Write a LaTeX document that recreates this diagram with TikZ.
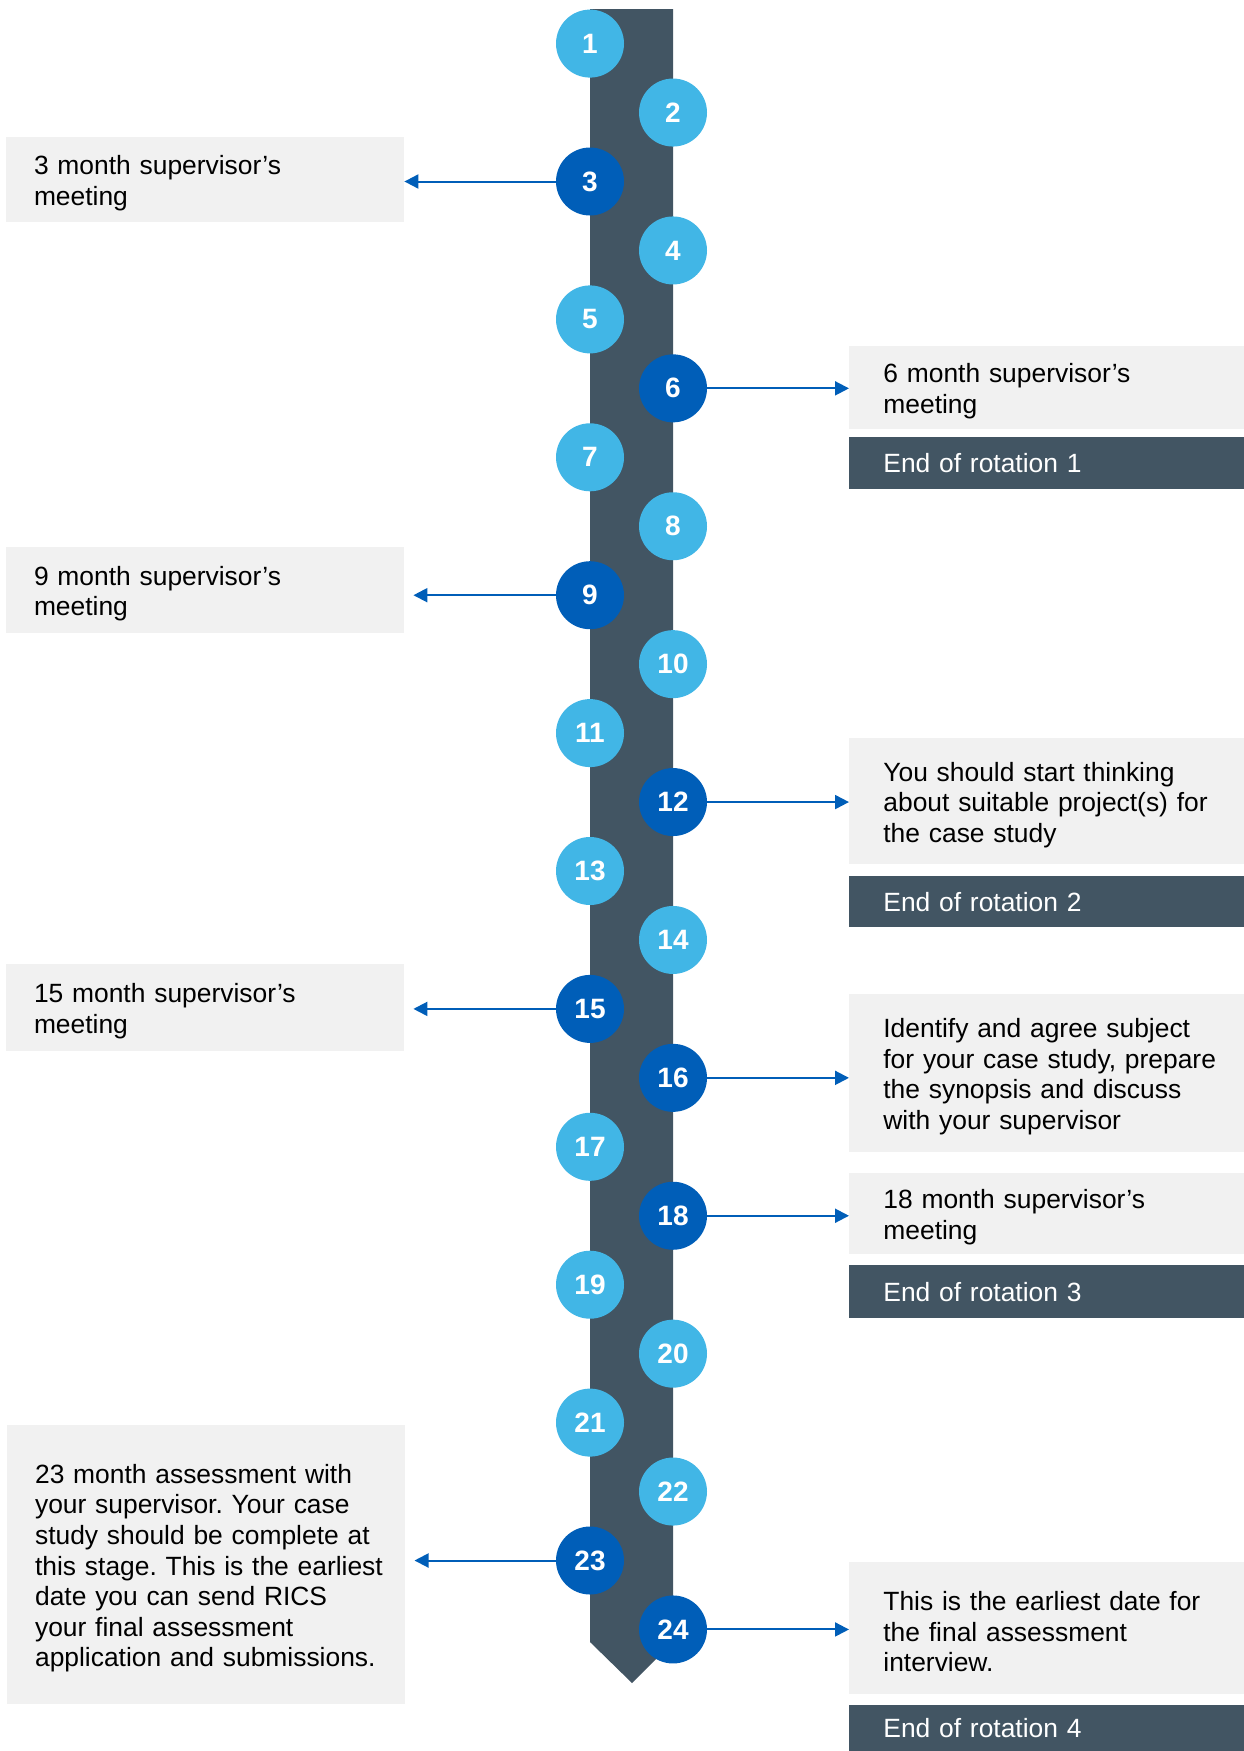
\documentclass[tikz,border=0pt]{standalone}
\usepackage{fontspec}
\setmainfont{Liberation Sans}
\usetikzlibrary{calc}
\usetikzlibrary{positioning}
\usetikzlibrary{arrows.meta}
\frenchspacing
\definecolor{lightBlue}{HTML}{41B6E6}
\definecolor{darkBlue}{HTML}{005EB8}
\definecolor{slateGrey}{HTML}{425563}
\definecolor{paleGrey}{HTML}{F1F1F1}
\tikzstyle{monthnode} = [circle, minimum size=34pt, inner sep=0pt, text=white, font=\fontsize{14}{16}\selectfont\bfseries]
\tikzstyle{colorLight} = [fill=lightBlue]
\tikzstyle{colorDark} = [fill=darkBlue]
\tikzstyle{boxnode} = [align=left, inner ysep=0pt, anchor=north west, font=\fontsize{13.2}{15.3}\selectfont]
\tikzstyle{notenode} = [boxnode, fill=paleGrey, execute at begin node={\rule{0pt}{13pt}}]
\tikzstyle{leftnote} = [notenode, text width=171pt, inner xsep=14pt]
\tikzstyle{rightnote} = [notenode, text width=175pt, inner xsep=17pt]
\tikzstyle{rotnode} = [boxnode, text width=175pt, inner xsep=17pt, fill=slateGrey, text=white]
\tikzstyle{linkarrow} = [darkBlue, line width=1pt, -{Triangle[length=7pt, width=7pt]}]
\tikzstyle{gapped} = [shorten >=4.5pt]

\begin{document}
\begin{tikzpicture}[x=0.5pt, y=-0.5pt]
    \useasboundingbox (0,0) rectangle (1243,1751);
    \fill[slateGrey] (590,9) -- (673,9) -- (673,1642) -- (632,1683) -- (590,1642) -- cycle;

    \node[monthnode, colorLight] (month_1) at (590,43.6) {1};
    \node[monthnode, colorLight] (month_2) at ($(month_1)+(83,68.95)$) {2};
    \node[monthnode, colorDark] (month_3) at ($(month_2)+(-83,68.95)$) {3};
    \node[monthnode, colorLight] (month_4) at ($(month_3)+(83,68.95)$) {4};
    \node[monthnode, colorLight] (month_5) at ($(month_4)+(-83,68.95)$) {5};
    \node[monthnode, colorDark] (month_6) at ($(month_5)+(83,68.95)$) {6};
    \node[monthnode, colorLight] (month_7) at ($(month_6)+(-83,68.95)$) {7};
    \node[monthnode, colorLight] (month_8) at ($(month_7)+(83,68.95)$) {8};
    \node[monthnode, colorDark] (month_9) at ($(month_8)+(-83,68.95)$) {9};
    \node[monthnode, colorLight] (month_10) at ($(month_9)+(83,68.95)$) {10};
    \node[monthnode, colorLight] (month_11) at ($(month_10)+(-83,68.95)$) {11};
    \node[monthnode, colorDark] (month_12) at ($(month_11)+(83,68.95)$) {12};
    \node[monthnode, colorLight] (month_13) at ($(month_12)+(-83,68.95)$) {13};
    \node[monthnode, colorLight] (month_14) at ($(month_13)+(83,68.95)$) {14};
    \node[monthnode, colorDark] (month_15) at ($(month_14)+(-83,68.95)$) {15};
    \node[monthnode, colorDark] (month_16) at ($(month_15)+(83,68.95)$) {16};
    \node[monthnode, colorLight] (month_17) at ($(month_16)+(-83,68.95)$) {17};
    \node[monthnode, colorDark] (month_18) at ($(month_17)+(83,68.95)$) {18};
    \node[monthnode, colorLight] (month_19) at ($(month_18)+(-83,68.95)$) {19};
    \node[monthnode, colorLight] (month_20) at ($(month_19)+(83,68.95)$) {20};
    \node[monthnode, colorLight] (month_21) at ($(month_20)+(-83,68.95)$) {21};
    \node[monthnode, colorLight] (month_22) at ($(month_21)+(83,68.95)$) {22};
    \node[monthnode, colorDark] (month_23) at ($(month_22)+(-83,68.95)$) {23};
    \node[monthnode, colorDark] (month_24) at ($(month_23)+(83,68.95)$) {24};

    \node[leftnote, minimum height=42.5pt] (note_3) at (5.6,137) {3 month supervisor’s\\meeting};
    \node[leftnote, minimum height=43pt] (note_9) at (5.6,547) {9 month supervisor’s\\meeting};
    \node[leftnote, minimum height=43.5pt] (note_15) at (5.6,964) {15 month supervisor’s\\meeting};
    \node[leftnote, minimum height=139.5pt] (note_23) at (6.7,1425) {23 month assessment with\\your supervisor. Your case\\study should be complete at\\\mbox{this stage. This is the earliest}\\date you can send RICS\\your final assessment\\application and submissions.};

    \node[rightnote, minimum height=41.5pt] (note_6) at (849,346) {6 month supervisor’s\\meeting};
    \node[rotnode, minimum height=26pt] (rot_1) at (849,437) {End of rotation 1};
    \node[rightnote, minimum height=63pt] (note_12) at (849,738) {You should start thinking\\about suitable project(s) for\\the case study};
    \node[rotnode, minimum height=25.5pt] (rot_2) at (849,876) {End of rotation 2};
    \node[rightnote, minimum height=79pt] (note_16) at (849,994) {Identify and agree subject\\for your case study, prepare\\the synopsis and discuss\\with your supervisor};
    \node[rightnote, minimum height=40.5pt] (note_18) at (849,1173) {18 month supervisor’s\\meeting};
    \node[rotnode, minimum height=26.5pt] (rot_3) at (849,1265) {End of rotation 3};
    \node[rightnote, minimum height=66pt] (note_24) at (849,1562) {This is the earliest date for\\the final assessment\\interview.};
    \node[rotnode, minimum height=23pt] (rot_4) at (849,1705) {End of rotation 4};

    \draw[linkarrow] (month_3.west) -- (month_3.west -| note_3.east);
    \draw[linkarrow, gapped] (month_9.west) -- (month_9.west -| note_9.east);
    \draw[linkarrow, gapped] (month_15.west) -- (month_15.west -| note_15.east);
    \draw[linkarrow, gapped] (month_23.west) -- (month_23.west -| note_23.east);
    \draw[linkarrow] (month_6.east) -- (month_6.east -| note_6.west);
    \draw[linkarrow] (month_12.east) -- (month_12.east -| note_12.west);
    \draw[linkarrow] (month_16.east) -- (month_16.east -| note_16.west);
    \draw[linkarrow] (month_18.east) -- (month_18.east -| note_18.west);
    \draw[linkarrow] (month_24.east) -- (month_24.east -| note_24.west);
\end{tikzpicture}
\end{document}
